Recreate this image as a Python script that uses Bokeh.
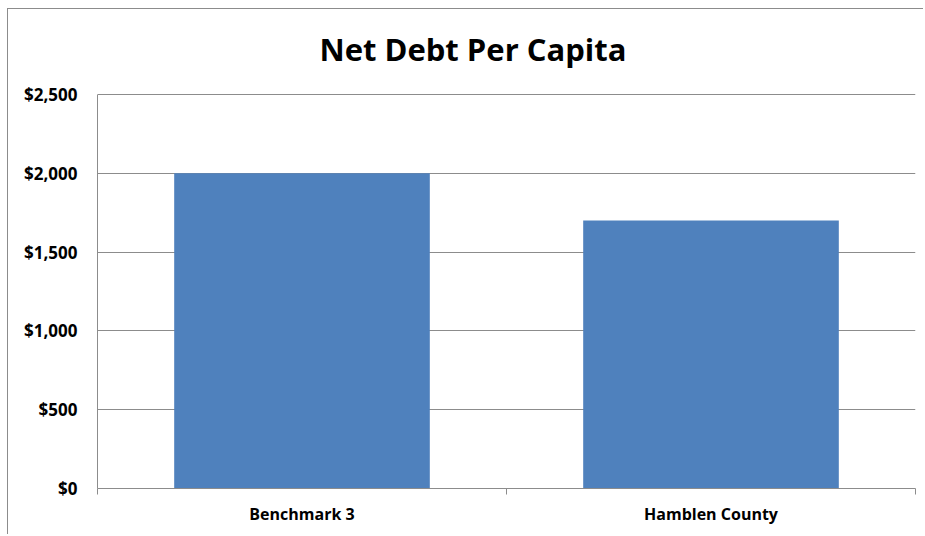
from bokeh.plotting import figure
from bokeh.models import ColumnDataSource, FixedTicker, NumeralTickFormatter, Range1d, Label
from bokeh.embed import file_html
from bokeh.resources import INLINE

# ---- data ----
categories = ["Benchmark 3", "Hamblen County"]
values = [2000, 1700]
y_ticks = [0, 500, 1000, 1500, 2000, 2500]
title_text = "Net Debt Per Capita"

x_pos = [i + 0.5 for i in range(len(categories))]
src = ColumnDataSource(dict(x=x_pos, top=values, cat=categories))

FONT = "Open Sans"
GRAY = "#8c8c8c"

# plot frame covers the whole chart height; the value axis spans 0..2500 (394 px)
FRAME_H = 479
AXIS_H = 394
y_top = y_ticks[-1] * FRAME_H / AXIS_H

p = figure(width=916, height=526, output_backend="svg", toolbar_location=None,
           x_range=Range1d(0, len(categories)), y_range=Range1d(0, y_top),
           min_border_left=89, min_border_right=9, min_border_top=0, min_border_bottom=47)
p.styles = {"margin-left": "7px", "margin-top": "8px",
            "border-left": "1px solid #8c8c8c", "border-top": "1px solid #8c8c8c"}

p.vbar(x="x", top="top", width=0.625, source=src, fill_color="#4f81bd", line_color=None)

# title, centred over the whole chart area
title = Label(x=0.918, y=y_ticks[-1] * 1.115, x_units="data", y_units="data",
              text=title_text, text_align="center", text_baseline="alphabetic",
              text_font=FONT, text_font_style="bold", text_font_size="31px",
              text_color="#000000")
p.add_layout(title)

# x axis
xa = p.xaxis[0]
xa.ticker = FixedTicker(ticks=x_pos, minor_ticks=list(range(len(categories) + 1)))
xa.major_label_overrides = {x: c for x, c in zip(x_pos, categories)}
xa.major_tick_out = 0
xa.major_tick_in = 0
xa.minor_tick_out = 6
xa.minor_tick_in = 0
xa.minor_tick_line_color = GRAY
xa.axis_line_color = GRAY
xa.major_label_standoff = 8
xa.major_label_text_font = FONT
xa.major_label_text_font_style = "bold"
xa.major_label_text_font_size = "16px"
xa.major_label_text_color = "#000000"

# y axis
ya = p.yaxis[0]
ya.ticker = FixedTicker(ticks=y_ticks)
ya.bounds = (y_ticks[0], y_ticks[-1])
ya.formatter = NumeralTickFormatter(format="$0,0")
ya.major_tick_out = 0
ya.major_tick_in = 0
ya.minor_tick_line_color = None
ya.axis_line_color = GRAY
ya.major_label_standoff = 20
ya.major_label_text_font = FONT
ya.major_label_text_font_style = "bold"
ya.major_label_text_font_size = "17px"
ya.major_label_text_color = "#000000"

p.xgrid.grid_line_color = None
p.ygrid.ticker = FixedTicker(ticks=y_ticks)
p.ygrid.grid_line_color = GRAY
p.outline_line_color = None

open("out.html", "w").write(file_html(p, INLINE))
